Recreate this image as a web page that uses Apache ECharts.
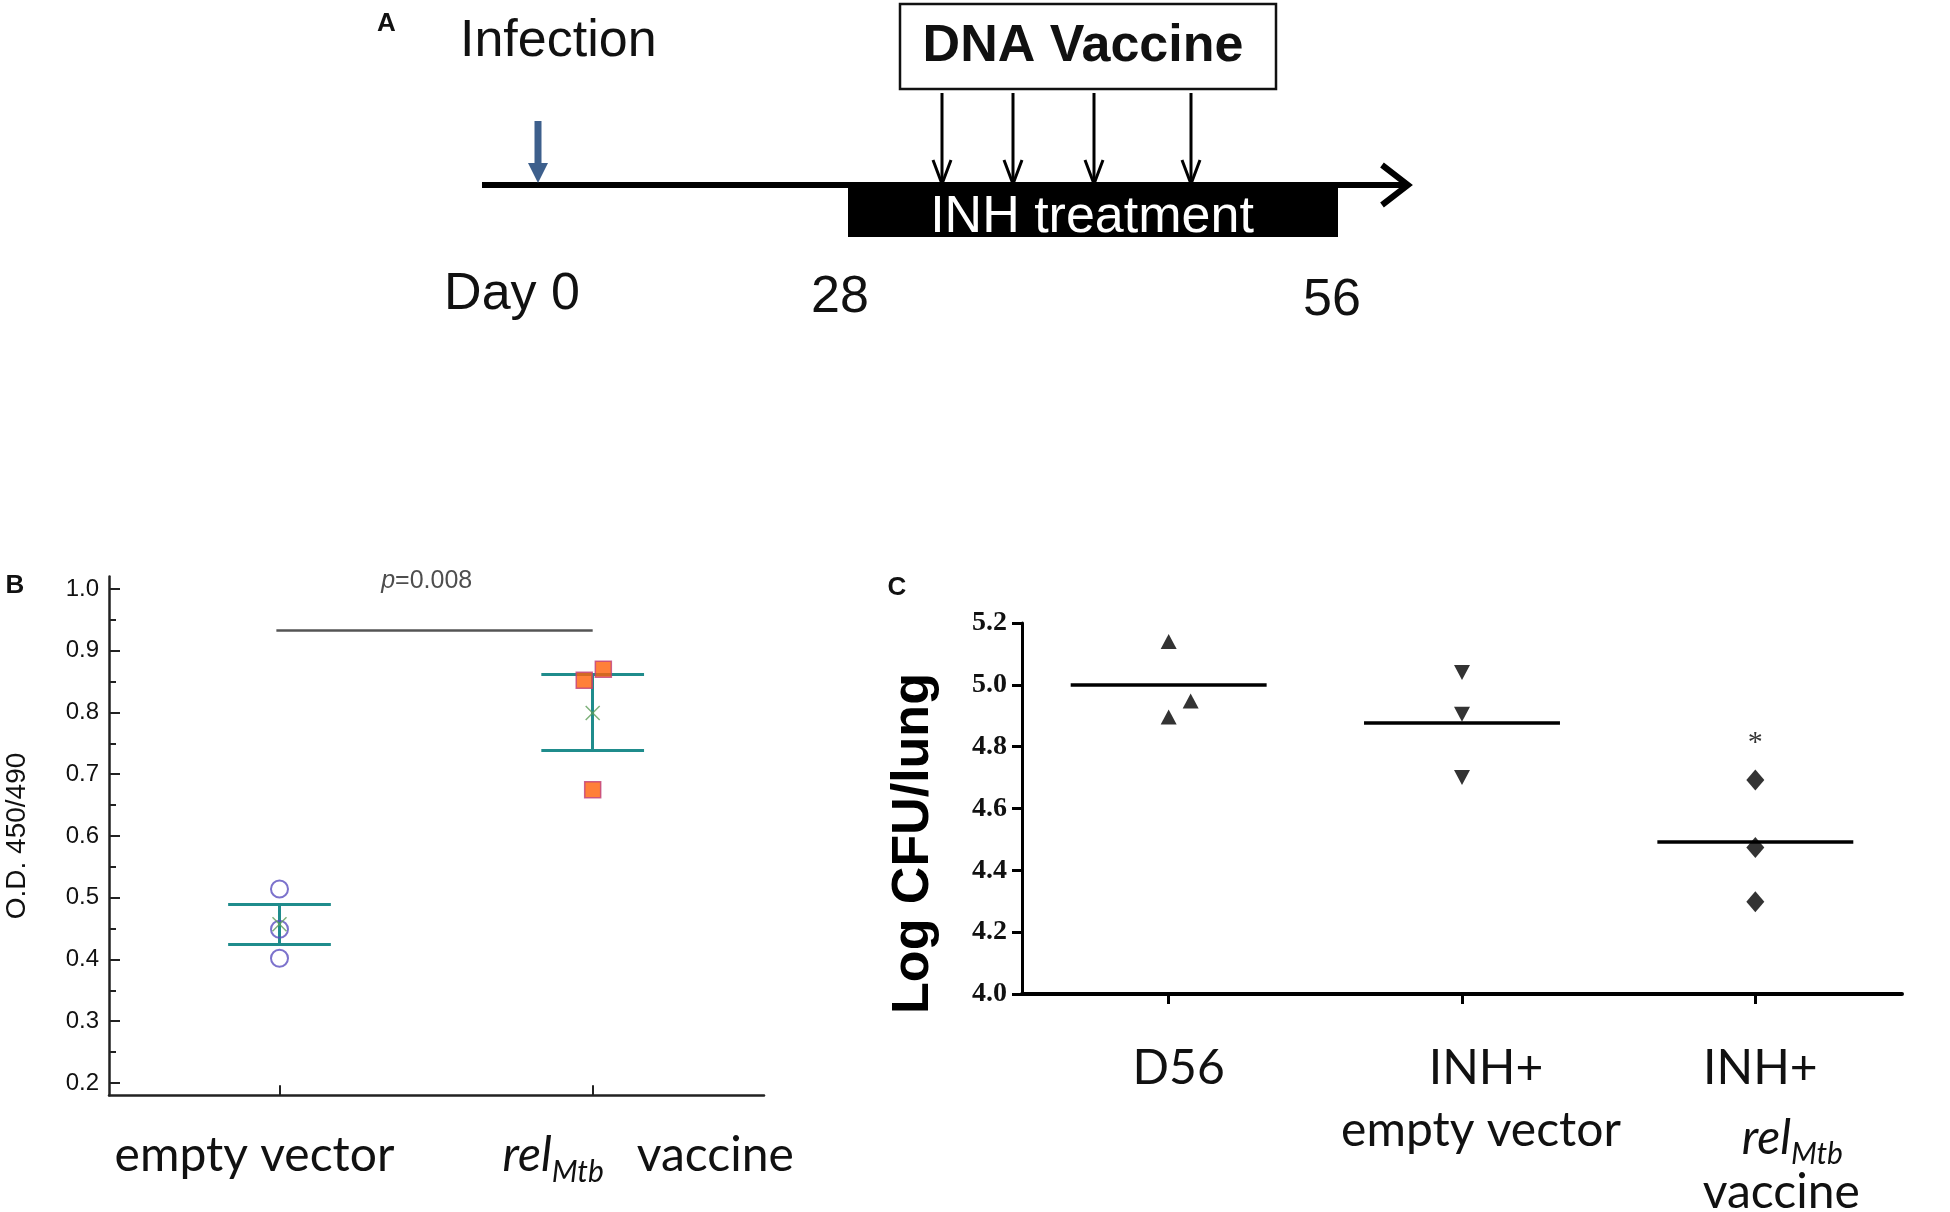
<!DOCTYPE html>
<html lang="en">
<head>
<meta charset="utf-8">
<title>relMtb DNA vaccine</title>
<script src="https://cdn.jsdelivr.net/npm/echarts@6.0.0/dist/echarts.min.js"></script>
<style>html,body{margin:0;background:#fff;}</style>
</head>
<body>
<div id="chart" style="width:1950px;height:1212px;"></div>
<script>
// panel B - O.D. 450/490
const odTicks = [0.2, 0.3, 0.4, 0.5, 0.6, 0.7, 0.8, 0.9, 1.0];
const odMinorTicks = [0.25, 0.35, 0.45, 0.55, 0.65, 0.75, 0.85, 0.95];
const emptyVectorOD = [0.514, 0.449, 0.402];
const relVaccineOD = [0.852, 0.870, 0.675];
const relJitter = [-0.027, 0.034, 0];
const odMeans = [0.457, 0.799];
const odLow = [0.424, 0.738];
const odHigh = [0.490, 0.862];
const pText = '0.008';

// panel C - Log CFU/lung
const cfuTicks = [4.0, 4.2, 4.4, 4.6, 4.8, 5.0, 5.2];
const d56CFU = [5.14, 4.948, 4.896];
const d56Jitter = [0, 0.075, 0];
const inhEmptyCFU = [5.04, 4.905, 4.70];
const inhRelCFU = [4.692, 4.474, 4.298];
const cfuMeans = [5.0, 4.878, 4.492];
const starLevel = 4.81;

const sans = 'Liberation Sans';
const labelFont = 'Lato';

let chart = echarts.init(document.getElementById('chart'));

// error bars for panel B
let capHalf = 0.164;
let barLines = [];
odMeans.forEach((m, i) => {
    let x = i + 1;
    barLines.push({coords: [[x, odLow[i]], [x, odHigh[i]]]});
    barLines.push({coords: [[x - capHalf, odLow[i]], [x + capHalf, odLow[i]]]});
    barLines.push({coords: [[x - capHalf, odHigh[i]], [x + capHalf, odHigh[i]]]});
});

let meanHalf = 0.334;
let meanLines = cfuMeans.map((m, i) => ({coords: [[i + 1 - meanHalf, m], [i + 1 + meanHalf, m]]}));

function tok(extra) {
    return Object.assign({fontFamily: labelFont, fontSize: 48, lineHeight: 62, verticalAlign: 'top', color: '#111'}, extra);
}
let catRich = {
    // panel B
    eb: tok({lineHeight: 56, padding: [0, 50, 0, 0]}),
    rb: tok({lineHeight: 56, fontStyle: 'italic', padding: [0, 0, 0, 111]}),
    sb: tok({fontSize: 30, fontStyle: 'italic', lineHeight: 32, padding: [28, 0, 0, 0], verticalAlign: 'bottom'}),
    vb: tok({lineHeight: 56, padding: [0, 0, 0, 33]}),
    // panel C
    d: tok({padding: [0, 0, 0, 20]}),
    i2: tok({padding: [0, 0, 0, 48]}),
    ev: tok({padding: [0, 0, 0, 38]}),
    i3: tok({padding: [0, 0, 0, 10]}),
    rc: tok({fontStyle: 'italic', padding: [8, 0, 0, 74]}),
    sc: tok({fontSize: 30, fontStyle: 'italic', lineHeight: 32, padding: [42, 0, 0, 0], verticalAlign: 'bottom'}),
    vc: tok({padding: [0, 0, 0, 52]})
};
const bLabels = ['{eb|empty vector}', '{rb|rel}{sb|Mtb}{vb|vaccine}'];
const cLabels = ['{d|D56}', '{i2|INH+}\n{ev|empty vector}', '{i3|INH+}\n{rc|rel}{sc|Mtb}\n{vc|vaccine}'];

// schematic timeline (panel A)
const doseX = [942, 1013, 1094, 1191];
const font50 = '52px "Liberation Sans"';
let graphics = [
    {type: 'text', left: 377, top: 11, style: {text: 'A', font: 'bold 26px "Liberation Sans"', fill: '#111'}},
    {type: 'text', left: 460, top: 16, style: {text: 'Infection', font: font50, fill: '#111'}},
    {type: 'rect', shape: {x: 900, y: 4, width: 376, height: 85}, style: {fill: '#fff', stroke: '#111', lineWidth: 2.5}},
    {type: 'text', x: 1083, y: 47, style: {text: 'DNA Vaccine', font: 'bold 52px "Liberation Sans"', fill: '#111', align: 'center', verticalAlign: 'middle'}},
    {type: 'line', shape: {x1: 482, y1: 185, x2: 1404, y2: 185}, style: {stroke: '#000', lineWidth: 6}},
    {type: 'polyline', shape: {points: [[1382, 165], [1408, 185], [1382, 205]]}, style: {stroke: '#000', lineWidth: 6, fill: null}},
    {type: 'rect', shape: {x: 848, y: 186, width: 490, height: 51}, style: {fill: '#000'}},
    {type: 'text', x: 1092, y: 218, style: {text: 'INH treatment', font: font50, fill: '#fff', align: 'center', verticalAlign: 'middle'}},
    {type: 'line', shape: {x1: 538, y1: 121, x2: 538, y2: 166}, style: {stroke: '#3d5f8c', lineWidth: 7}},
    {type: 'polygon', shape: {points: [[528, 163], [548, 163], [538, 183]]}, style: {fill: '#3d5f8c'}},
    {type: 'text', x: 512, y: 295, style: {text: 'Day 0', font: font50, fill: '#111', align: 'center', verticalAlign: 'middle'}},
    {type: 'text', x: 840, y: 298, style: {text: '28', font: font50, fill: '#111', align: 'center', verticalAlign: 'middle'}},
    {type: 'text', x: 1332, y: 301, style: {text: '56', font: font50, fill: '#111', align: 'center', verticalAlign: 'middle'}},
    {type: 'text', x: 15, y: 586, style: {text: 'B', font: 'bold 26px "Liberation Sans"', fill: '#111', align: 'center', verticalAlign: 'middle'}},
    {type: 'text', x: 897, y: 588, style: {text: 'C', font: 'bold 26px "Liberation Sans"', fill: '#111', align: 'center', verticalAlign: 'middle'}}
];
doseX.forEach(x => {
    graphics.push({type: 'line', shape: {x1: x, y1: 93, x2: x, y2: 182}, style: {stroke: '#000', lineWidth: 3}});
    graphics.push({type: 'polyline', shape: {points: [[x - 9, 160], [x, 184], [x + 9, 160]]}, style: {stroke: '#000', lineWidth: 3, fill: null}});
});

// one label-only axis per group in panel B, so the two wide labels are not dropped as overlapping
function bLabelAxis(v) {
    return {
        gridIndex: 0, type: 'value', min: 0.4556, max: 2.547, position: 'bottom', offset: 0,
        axisLine: {show: false, onZero: false}, axisTick: {show: false}, splitLine: {show: false},
        axisLabel: {customValues: [v], margin: 36, showMinLabel: true, showMaxLabel: true,
            formatter: val => bLabels[Math.round(val) - 1], rich: catRich}
    };
}

let option = {
    animation: false,
    backgroundColor: '#fff',
    graphic: graphics,
    grid: [
        {left: 109, top: 576.6, width: 655, height: 518.7, containLabel: false, outerBoundsMode: 'none'},
        {left: 1022, top: 623, width: 880, height: 371, containLabel: false, outerBoundsMode: 'none'}
    ],
    xAxis: [
        {
            gridIndex: 0, type: 'value', min: 0.4556, max: 2.547, position: 'bottom',
            axisLine: {onZero: false, lineStyle: {color: '#222', width: 2.5}},
            axisTick: {inside: true, length: 10, customValues: [1, 2], lineStyle: {color: '#222', width: 2}},
            axisLabel: {show: false},
            splitLine: {show: false}
        },
        {
            gridIndex: 1, type: 'value', min: 0.5, max: 3.5,
            axisLine: {onZero: false, lineStyle: {color: '#000', width: 4}},
            axisTick: {length: 10, customValues: [1, 2, 3], lineStyle: {color: '#000', width: 3}},
            axisLabel: {customValues: [1, 2, 3], margin: 51, showMinLabel: true, showMaxLabel: true,
                formatter: v => cLabels[Math.round(v) - 1], rich: catRich},
            splitLine: {show: false}
        },
        bLabelAxis(1),
        bLabelAxis(2)
    ],
    yAxis: [
        {
            gridIndex: 0, type: 'value', min: 0.18, max: 1.02, position: 'left',
            name: 'O.D. 450/490', nameLocation: 'middle', nameGap: 78,
            nameTextStyle: {fontFamily: sans, fontSize: 28, color: '#111'},
            axisLine: {onZero: false, lineStyle: {color: '#222', width: 2.5}},
            axisTick: {inside: true, length: 11, customValues: odTicks, lineStyle: {color: '#222', width: 2}},
            axisLabel: {customValues: odTicks, margin: 10, fontFamily: sans, fontSize: 24, color: '#111', formatter: v => v.toFixed(1)},
            splitLine: {show: false}
        },
        {
            gridIndex: 0, type: 'value', min: 0.18, max: 1.02, position: 'left', offset: 0,
            axisLine: {show: false, onZero: false},
            axisTick: {inside: true, length: 7, customValues: odMinorTicks, lineStyle: {color: '#222', width: 2}},
            axisLabel: {show: false},
            splitLine: {show: false}
        },
        {
            gridIndex: 1, type: 'value', min: 4.0, max: 5.2,
            name: 'Log CFU/lung', nameLocation: 'middle', nameGap: 82,
            nameTextStyle: {fontFamily: sans, fontSize: 52, fontWeight: 'bold', color: '#000', padding: [0, 70, 0, 0]},
            axisLine: {onZero: false, lineStyle: {color: '#000', width: 3}},
            axisTick: {length: 10, customValues: cfuTicks, lineStyle: {color: '#000', width: 3}},
            axisLabel: {customValues: cfuTicks, margin: 15, fontFamily: 'Liberation Serif', fontWeight: 'bold', fontSize: 28, color: '#111', formatter: v => v.toFixed(1)},
            splitLine: {show: false}
        }
    ],
    series: [
        {
            type: 'lines', coordinateSystem: 'cartesian2d', xAxisIndex: 0, yAxisIndex: 0,
            data: barLines, lineStyle: {color: '#1f8c8c', width: 3, opacity: 1}, silent: true, z: 2
        },
        {
            type: 'lines', coordinateSystem: 'cartesian2d', xAxisIndex: 0, yAxisIndex: 0,
            data: [{coords: [[0.99, 0.9325], [2.0, 0.9325]]}], lineStyle: {color: '#555', width: 2.5, opacity: 1}, silent: true, z: 2
        },
        {
            type: 'scatter', xAxisIndex: 0, yAxisIndex: 0,
            data: emptyVectorOD.map(v => [1, v]),
            symbol: 'circle', symbolSize: 17,
            itemStyle: {color: 'rgba(0,0,0,0)', borderColor: '#5b4fbf', borderWidth: 2}, z: 3
        },
        {
            type: 'scatter', xAxisIndex: 0, yAxisIndex: 0,
            data: relVaccineOD.map((v, i) => [2 + relJitter[i], v]),
            symbol: 'rect', symbolSize: 16,
            itemStyle: {color: '#ff6008', borderColor: '#c0407a', borderWidth: 1.5}, z: 3
        },
        {
            type: 'scatter', xAxisIndex: 0, yAxisIndex: 0,
            data: odMeans.map((m, i) => [i + 1, m]),
            symbol: 'path://M0,0L10,10M10,0L0,10', symbolSize: 14,
            itemStyle: {color: 'rgba(0,0,0,0)', borderColor: '#5f9e5a', borderWidth: 1.5}, z: 4
        },
        {
            type: 'scatter', xAxisIndex: 0, yAxisIndex: 0,
            data: [[1.47, 1.012]], symbolSize: 0, silent: true,
            label: {
                show: true, position: 'inside',
                formatter: '{i|p}{n|=' + pText + '}',
                rich: {
                    i: {fontFamily: sans, fontSize: 25, fontStyle: 'italic', color: '#222'},
                    n: {fontFamily: sans, fontSize: 25, color: '#222'}
                }
            }
        },
        {
            type: 'lines', coordinateSystem: 'cartesian2d', xAxisIndex: 1, yAxisIndex: 2,
            data: meanLines, lineStyle: {color: '#000', width: 3.5, opacity: 1}, silent: true, z: 2
        },
        {
            type: 'scatter', xAxisIndex: 1, yAxisIndex: 2,
            data: d56CFU.map((v, i) => [1 + d56Jitter[i], v]),
            symbol: 'triangle', symbolSize: [16, 15], itemStyle: {color: '#000'}, z: 3
        },
        {
            type: 'scatter', xAxisIndex: 1, yAxisIndex: 2,
            data: inhEmptyCFU.map(v => [2, v]),
            symbol: 'triangle', symbolRotate: 180, symbolSize: [16, 15], itemStyle: {color: '#000'}, z: 3
        },
        {
            type: 'scatter', xAxisIndex: 1, yAxisIndex: 2,
            data: inhRelCFU.map(v => [3, v]),
            symbol: 'diamond', symbolSize: [18, 21], itemStyle: {color: '#000'}, z: 3
        },
        {
            type: 'scatter', xAxisIndex: 1, yAxisIndex: 2,
            data: [[3, starLevel]], symbolSize: 0, silent: true,
            label: {show: true, position: 'inside', formatter: '*', fontFamily: 'Liberation Serif', fontSize: 30, color: '#000'}
        }
    ]
};
chart.setOption(option);
</script>
</body>
</html>
